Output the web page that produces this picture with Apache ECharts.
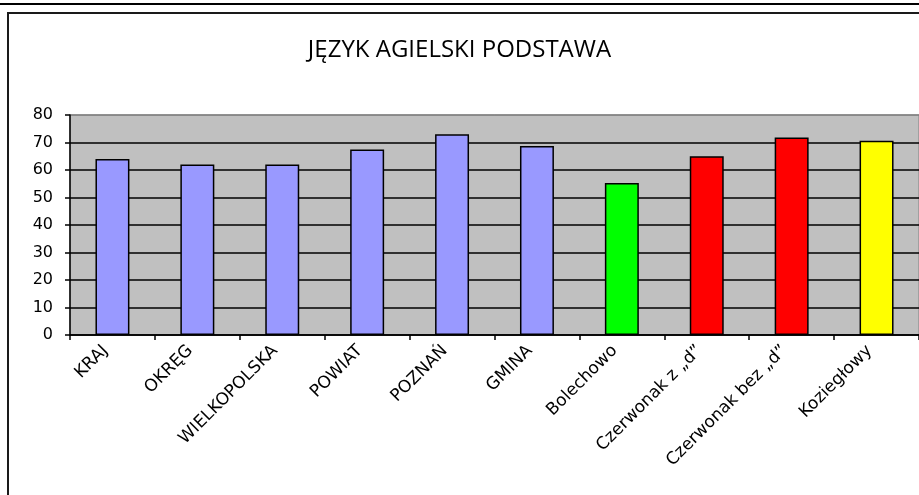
<!DOCTYPE html>
<html>
<head>
<meta charset="utf-8">
<script src="https://cdn.jsdelivr.net/npm/echarts@6/dist/echarts.min.js"></script>
<style>
html,body{margin:0;padding:0;background:#fff;}
#chart{width:919px;height:495px;}
</style>
</head>
<body>
<div id="chart"></div>
<script>
const categories = ['KRAJ', 'OKRĘG', 'WIELKOPOLSKA', 'POWIAT', 'POZNAŃ', 'GMINA', 'Bolechowo', 'Czerwonak z „d”', 'Czerwonak bez „d”', 'Koziegłowy'];
const values = [64, 62, 62, 67.5, 73, 68.7, 55.3, 65, 71.8, 70.6];
const yTicks = [0, 10, 20, 30, 40, 50, 60, 70, 80];
const titleText = 'JĘZYK AGIELSKI PODSTAWA';

const barColors = ['#9999FF', '#9999FF', '#9999FF', '#9999FF', '#9999FF', '#9999FF', '#00FF00', '#FF0000', '#FF0000', '#FFFF00'];

const chart = echarts.init(document.getElementById('chart'), null, {renderer: 'canvas'});
const splitColors = yTicks.map((t, i) => i === yTicks.length - 1 ? '#808080' : '#000000');

chart.setOption({
  animation: false,
  backgroundColor: '#ffffff',
  title: {
    text: titleText,
    left: 'center',
    top: 33,
    textStyle: {fontFamily: 'Open Sans', fontSize: 24, fontWeight: 'normal', color: '#000'}
  },
  graphic: [
    {type: 'rect', shape: {x: 0, y: 3, width: 919, height: 2}, style: {fill: '#000'}, silent: true},
    {type: 'rect', shape: {x: 8, y: 13, width: 930, height: 500}, style: {fill: 'none', stroke: '#1a1a1a', lineWidth: 2}, silent: true}
  ],
  grid: {
    left: 70, top: 115, bottom: 160, right: -6,
    show: true, backgroundColor: '#C0C0C0', borderColor: '#808080', borderWidth: 1
  },
  xAxis: {
    type: 'category',
    data: categories,
    axisLine: {lineStyle: {color: '#000', width: 1.5}},
    axisTick: {show: true, length: 5, lineStyle: {color: '#000', width: 1.5}},
    axisLabel: {
      rotate: 45, margin: 6, interval: 0, padding: [0, 10, 0, 0],
      fontFamily: 'DejaVu Sans', fontSize: 17, color: '#000'
    }
  },
  yAxis: {
    type: 'value',
    min: 0, max: 80, interval: 10,
    axisLine: {show: true, lineStyle: {color: '#000', width: 1.5}},
    axisTick: {show: true, length: 5, lineStyle: {color: '#000', width: 1.5}},
    axisLabel: {margin: 17, fontFamily: 'DejaVu Sans', fontSize: 16, color: '#000'},
    splitLine: {show: true, lineStyle: {color: splitColors, width: 1.5}}
  },
  series: [{
    type: 'bar',
    data: values.map((v, i) => ({value: v, itemStyle: {color: barColors[i]}})),
    barWidth: '40%',
    itemStyle: {borderColor: '#000', borderWidth: 1.5}
  }]
});
</script>
</body>
</html>
